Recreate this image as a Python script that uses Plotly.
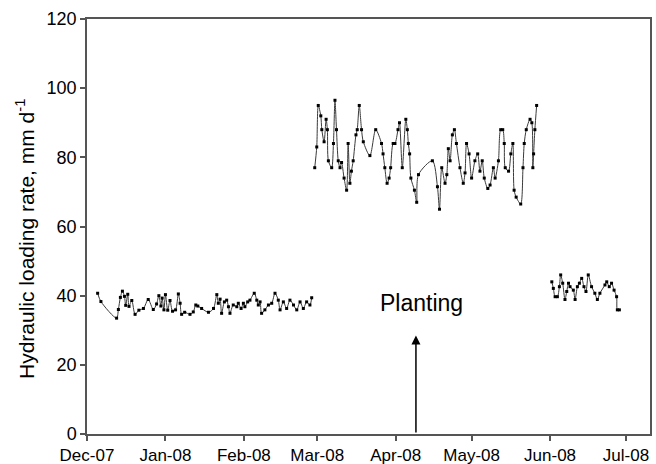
import pandas as pd
import plotly.graph_objects as go

# Day offsets from 2007-12-01 and hydraulic loading rates (mm/d)
s1_days = [4.2, 5.5, 11.7, 12.4, 13.2, 14.0, 14.8, 15.3, 16.1, 16.6, 17.7, 19.0, 20.5, 22.3, 24.2,
           26.2, 27.5, 28.4, 29.2, 29.7, 30.4, 31.0, 31.9, 32.8, 33.8, 35.0, 36.1, 36.8, 37.4, 38.6,
           40.7, 42.0, 43.0, 43.8, 45.3, 48.0, 50.0, 51.3, 51.9, 52.6, 53.2, 54.3, 55.2, 55.9, 56.5,
           57.8, 59.2, 59.8, 60.9, 61.8, 62.4, 63.5, 64.4, 66.1, 67.1, 67.7, 68.4, 69.0, 70.3, 71.7,
           73.0, 74.3, 75.6, 76.3, 77.6, 78.9, 80.2, 81.6, 82.9, 84.2, 85.5, 86.8, 88.1, 88.8]
s1_vals = [40.7, 38.3, 33.5, 36.0, 39.5, 41.3, 39.8, 37.2, 40.4, 36.9, 38.6, 34.6, 35.8, 36.3, 38.9,
           36.0, 37.6, 40.0, 37.0, 39.3, 35.9, 40.3, 35.8, 38.6, 35.5, 35.9, 40.5, 37.8, 34.6, 35.2,
           34.6, 35.3, 37.3, 37.0, 36.3, 35.2, 36.3, 40.3, 37.8, 39.0, 34.9, 38.2, 38.7, 36.8, 34.9,
           37.3, 36.8, 37.8, 36.3, 37.8, 36.8, 38.2, 38.7, 40.7, 38.7, 37.3, 38.2, 34.9, 35.9, 37.3,
           37.8, 40.7, 38.7, 35.9, 38.2, 36.3, 38.7, 37.3, 35.9, 38.2, 36.3, 38.2, 37.3, 39.4]

s2_days = [90.0, 90.8, 91.4, 92.4, 92.8, 93.7, 94.5, 95.0, 95.4, 96.7, 97.4, 98.0, 98.6, 99.3, 100.0,
           100.6, 101.6, 102.6, 103.2, 103.9, 104.5, 105.2, 106.3, 106.8, 107.6, 108.5, 109.2, 111.8,
           114.1, 116.4, 117.0, 117.7, 118.6, 119.4, 120.0, 121.0, 121.7, 122.9, 123.5, 124.6, 126.0,
           126.6, 127.0, 127.5, 128.0, 129.4, 130.3, 131.0, 136.5, 138.5, 139.3, 140.2, 141.5, 142.2,
           142.8, 143.5, 144.4, 145.2, 146.0, 147.4, 148.7, 149.4, 150.0, 151.0, 152.0, 153.3, 154.4,
           155.3, 156.2, 157.0, 158.4, 159.3, 160.6, 161.3, 162.6, 163.5, 164.3, 164.9, 165.3, 166.6,
           167.5, 168.3, 168.8, 169.6, 171.4, 172.3, 172.8, 173.6, 175.1, 175.8, 176.2, 176.5, 177.0,
           177.7]
s2_vals = [77.0, 83.0, 95.0, 92.0, 88.0, 84.5, 91.0, 88.0, 79.0, 77.0, 84.0, 96.5, 88.0, 79.0, 77.0,
           78.5, 74.0, 70.5, 84.0, 72.5, 76.0, 79.0, 86.5, 88.0, 95.0, 88.0, 84.5, 80.5,
           88.0, 84.0, 81.0, 77.0, 72.5, 74.0, 77.0, 84.0, 84.0, 88.0, 90.0, 77.0, 91.0,
           88.0, 84.0, 81.0, 74.0, 70.5, 67.0, 75.0, 79.0, 71.5, 65.0, 77.0, 72.5, 75.0,
           82.5, 79.0, 86.5, 88.0, 84.0, 77.0, 72.5, 75.5, 84.0, 81.0, 74.0, 79.0, 81.0,
           76.0, 79.0, 74.0, 71.0, 72.0, 77.0, 74.0, 79.0, 88.0, 88.0, 84.0, 77.0, 76.0,
           81.0, 84.0, 70.5, 68.5, 66.5, 77.0, 84.0, 88.0, 91.0, 90.0, 77.0, 81.0, 88.0,
           95.0]

s3_days = [183.7, 184.3, 185.0, 185.9, 186.7, 187.2, 188.0, 188.9, 189.6, 190.3, 190.9, 192.2, 192.9,
           193.8, 194.6, 195.5, 196.4, 197.2, 198.1, 199.4, 200.7, 201.7, 202.7, 204.7, 205.4, 206.4,
           207.3, 208.3, 209.3, 209.6, 210.4]
s3_vals = [44.0, 42.1, 39.7, 39.7, 42.6, 46.0, 43.6, 38.9, 41.2, 43.6, 42.6, 41.6, 38.9,
           42.6, 43.6, 45.0, 42.6, 41.2, 46.0, 42.6, 40.7, 38.9, 40.7, 43.1, 44.0, 42.6,
           43.6, 41.6, 39.7, 35.9, 35.9]

tick_dates = ["2007-12-01", "2008-01-01", "2008-02-01", "2008-03-01", "2008-04-01",
              "2008-05-01", "2008-06-01", "2008-07-01"]
tick_labels = ["Dec-07", "Jan-08", "Feb-08", "Mar-08", "Apr-08", "May-08", "Jun-08", "Jul-08"]

planting_date = "2008-04-09"
planting_label = "Planting"

base = pd.Timestamp("2007-12-01")


def to_dates(days):
    return [base + pd.to_timedelta(d, unit="D") for d in days]


fig = go.Figure()
for days, vals in [(s1_days, s1_vals), (s2_days, s2_vals), (s3_days, s3_vals)]:
    fig.add_trace(go.Scatter(
        x=to_dates(days), y=vals, mode="lines+markers",
        line=dict(color="#3a3a3a", width=1, shape="spline", smoothing=0.8),
        marker=dict(symbol="square", size=3, color="black"),
        showlegend=False,
    ))

axis_color = "#555555"
family = "Liberation Sans, Arial, sans-serif"
font = dict(family=family, size=17, color="black")

fig.update_layout(
    template="none",
    width=656, height=464,
    margin=dict(l=87, r=6, t=19, b=30),
    paper_bgcolor="white", plot_bgcolor="white",
    font=font,
    xaxis=dict(
        type="date", automargin=False,
        range=[base, base + pd.to_timedelta(222.5, unit="D")],
        tickvals=tick_dates, ticktext=tick_labels,
        showgrid=False, zeroline=False,
        showline=True, linecolor=axis_color, linewidth=1.5, mirror=True,
        ticks="outside", ticklen=5, tickcolor=axis_color, tickwidth=1.5,
        tickfont=font,
    ),
    yaxis=dict(
        automargin=False,
        range=[0, 120], tickvals=[0, 20, 40, 60, 80, 100, 120],
        showgrid=False, zeroline=False,
        showline=True, linecolor=axis_color, linewidth=1.5, mirror=True,
        ticks="outside", ticklen=5, tickcolor=axis_color, tickwidth=1.5,
        tickfont=dict(family=family, size=18, color="black"),
    ),
    annotations=[
        dict(text="Hydraulic loading rate, mm d<sup>-1</sup>", textangle=-90,
             xref="paper", yref="paper", x=-0.11, y=0.47, showarrow=False,
             font=dict(family=family, size=21, color="black"),
             xanchor="center", yanchor="middle"),
        dict(text=planting_label, x=pd.Timestamp(planting_date) + pd.to_timedelta(2, unit="D"),
             y=38, xref="x", yref="y", showarrow=False,
             font=dict(family=family, size=23, color="black")),
        dict(text="", x=planting_date, y=28.5, xref="x", yref="y",
             ax=planting_date, ay=0, axref="x", ayref="y",
             showarrow=True, arrowhead=2, arrowsize=1.2, arrowwidth=1.5, arrowcolor="black"),
    ],
)

fig.write_html(
    "out.html",
    config={"displayModeBar": False},
    post_script="document.body.style.margin='0';document.body.style.padding='0';",
)
